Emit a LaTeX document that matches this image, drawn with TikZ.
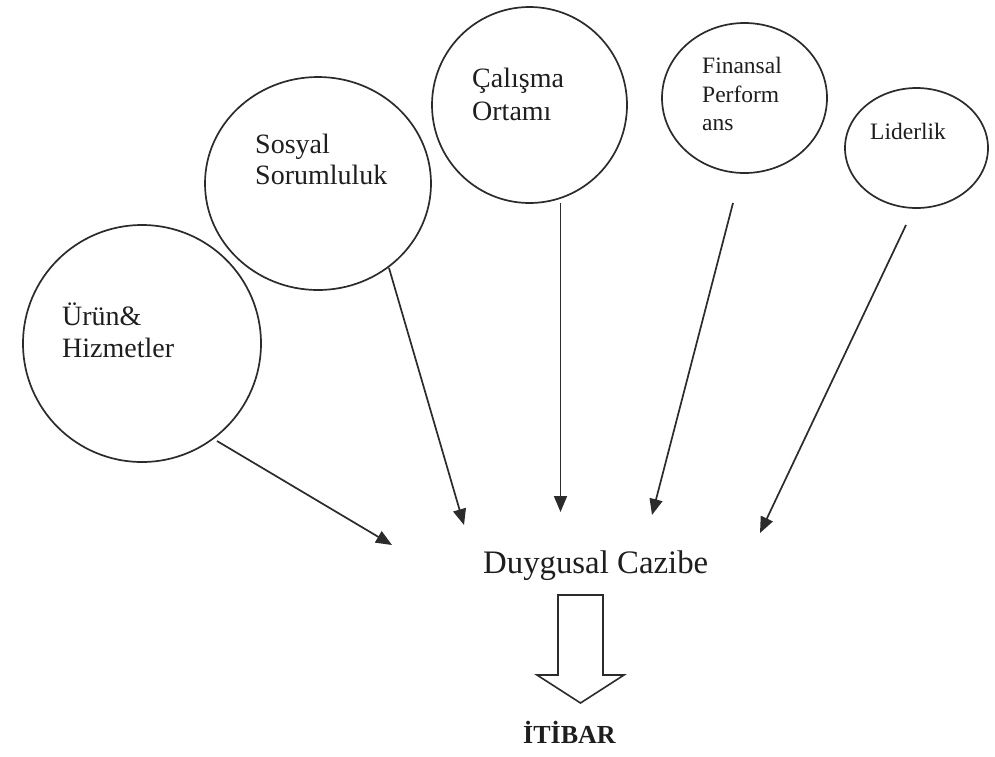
\documentclass[tikz,border=0pt]{standalone}
\usepackage{fontspec}
\setmainfont{Liberation Serif}
\usetikzlibrary{shapes.geometric,arrows.meta}

\definecolor{ink}{HTML}{2B2B2B}
\definecolor{txt}{HTML}{1E1E1E}

\tikzset{
  factor/.style={ellipse, draw=ink, line width=1.7pt, inner sep=0pt, fill=white},
  lbl/.style={anchor=base west, inner sep=0pt, text=txt},
  feed/.style={draw=ink, line width=1.7pt, -{Triangle[length=16pt,width=13pt]}},
  bigarrow/.style={draw=ink, line width=1.6pt, fill=white, line join=miter}
}

\begin{document}
\begin{tikzpicture}[x=1pt, y=-1pt]
  \useasboundingbox[fill=white] (0,0) rectangle (995,756);

  % factor circles
  \node[factor, minimum width=238pt, minimum height=237pt] (urun)     at (142,343.5) {};
  \node[factor, minimum width=226pt, minimum height=213pt] (sosyal)   at (318,183.5) {};
  \node[factor, minimum width=195pt, minimum height=196pt] (calisma)  at (529.5,105) {};
  \node[factor, minimum width=165pt, minimum height=150pt] (finansal) at (744.5,98) {};
  \node[factor, minimum width=143pt, minimum height=120pt] (liderlik) at (916.5,148) {};

  % labels inside the circles
  \node[lbl, font=\fontsize{28}{32}\selectfont] (urunA) at (62,325) {Ürün\&};
  \node[lbl, font=\fontsize{28}{32}\selectfont] (urunB) at (62,357) {Hizmetler};
  \node[lbl, font=\fontsize{28}{32}\selectfont] (sosA) at (255,153) {Sosyal};
  \node[lbl, font=\fontsize{28}{32}\selectfont] (sosB) at (255,184) {Sorumluluk};
  \node[lbl, font=\fontsize{28}{32}\selectfont] (calA) at (472,87) {Çalışma};
  \node[lbl, font=\fontsize{28}{32}\selectfont] (calB) at (472,120) {Ortamı};
  \node[lbl, font=\fontsize{23.5}{28}\selectfont] (finA) at (702,73) {Finansal};
  \node[lbl, font=\fontsize{23.5}{28}\selectfont] (finB) at (702,102) {Perform};
  \node[lbl, font=\fontsize{23.5}{28}\selectfont] (finC) at (702,130) {ans};
  \node[lbl, font=\fontsize{23.5}{28}\selectfont] (lidA) at (870,139) {Liderlik};

  % central concept and result
  \node[lbl, font=\fontsize{32.8}{38}\selectfont] (duygu) at (483,573) {Duygusal Cazibe};
  \node[lbl, font=\fontsize{26}{30}\selectfont\bfseries] (itibar) at (523,743) {İTİBAR};

  % arrow ends
  \coordinate (s1) at (217,441);  \coordinate (t1) at (392,545);
  \coordinate (s2) at (389,268);  \coordinate (t2) at (464,525);
  \coordinate (s3) at (560.5,203); \coordinate (t3) at (560.5,512);
  \coordinate (s4) at (733,203);  \coordinate (t4) at (652,515);
  \coordinate (s5) at (906,225);  \coordinate (t5) at (760,533);

  \draw[feed] (s1) -- (t1);
  \draw[feed] (s2) -- (t2);
  \draw[feed] (s3) -- (t3);
  \draw[feed] (s4) -- (t4);
  \draw[feed] (s5) -- (t5);

  % hollow block arrow from the concept to the result
  \draw[bigarrow] (558,595) -- (603,595) -- (603,675) -- (624,675)
    -- (580.5,703) -- (537,675) -- (558,675) -- cycle;
\end{tikzpicture}
\end{document}
